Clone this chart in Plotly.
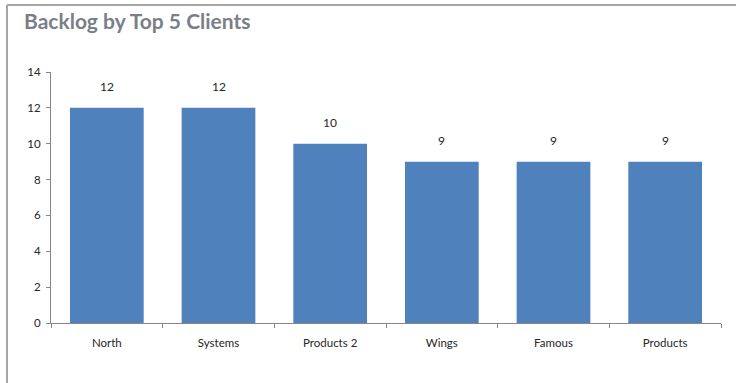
import plotly.graph_objects as go

# Backlog counts for the top clients
clients = ["North", "Systems", "Products 2", "Wings", "Famous", "Products"]
backlog = [12, 12, 10, 9, 9, 9]
y_ticks = [0, 2, 4, 6, 8, 10, 12, 14]

bar_color = "#4F81BD"
axis_color = "#868686"
text_color = "#262626"

fig = go.Figure(
    go.Bar(
        x=clients,
        y=backlog,
        marker=dict(color=bar_color, line=dict(width=0)),
        width=0.66,
        hoverinfo="x+y",
    )
)

# Value labels above each bar
for c, v in zip(clients, backlog):
    fig.add_annotation(
        x=c, y=v, text=str(v), showarrow=False, yanchor="bottom", yshift=12,
        font=dict(family="Lato, Open Sans, sans-serif", size=12, color=text_color),
    )

fig.update_layout(
    width=736,
    height=383,
    margin=dict(l=51, r=15, t=72, b=60),
    paper_bgcolor="white",
    plot_bgcolor="white",
    showlegend=False,
    title=dict(
        text="<b>Backlog by Top 5 Clients</b>",
        x=24 / 736, xanchor="left",
        y=1 - 22 / 383, yanchor="middle",
        font=dict(family="Lato, Open Sans, sans-serif", size=21, color="#7a7f87"),
    ),
    font=dict(family="Lato, Open Sans, sans-serif", size=11, color=text_color),
    bargap=0.34,
)

fig.update_xaxes(
    showline=True, linecolor=axis_color, linewidth=1,
    ticks="outside", tickson="boundaries", ticklen=4, tickcolor=axis_color,
    ticklabelstandoff=9,
    showgrid=False, tickfont=dict(size=11.5, color=text_color),
)
fig.update_yaxes(
    range=[0, 14], tickvals=y_ticks,
    showline=True, linecolor=axis_color, linewidth=1,
    ticks="outside", ticklen=4, tickcolor=axis_color,
    ticklabelstandoff=3,
    showgrid=False, zeroline=False, tickfont=dict(size=11.5, color=text_color),
)

# Frame lines along the top and left of the chart area
px_w, px_h = 670, 251
fig.add_shape(type="line", xref="paper", yref="paper",
              x0=(7 - 51) / px_w, x1=(736 - 51) / px_w,
              y0=1 + (72 - 5) / px_h, y1=1 + (72 - 5) / px_h,
              line=dict(color="#a6a6a6", width=2))
fig.add_shape(type="line", xref="paper", yref="paper",
              x0=(7 - 51) / px_w, x1=(7 - 51) / px_w,
              y0=1 + (72 - 5) / px_h, y1=-(383 - 323) / px_h,
              line=dict(color="#a6a6a6", width=2))

fig.write_html("out.html")
